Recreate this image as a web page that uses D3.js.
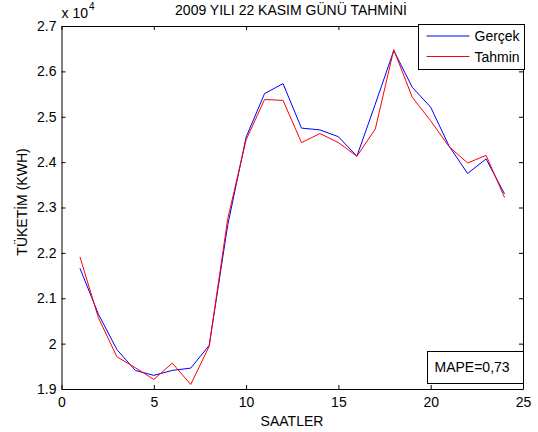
<!DOCTYPE html>
<html lang="tr">

<head>
  <meta charset="UTF-8">
  <title>2009 YILI 22 KASIM GÜNÜ TAHMİNİ</title>
  <script src="https://d3js.org/d3.v7.min.js"></script>
  <style>
    body {
      margin: 0;
      padding: 0;
      background: #ffffff;
      font-family: "Liberation Sans", Arial, sans-serif;
    }

    .axis text {
      font-size: 14px;
      fill: #000;
    }

    .axis path,
    .axis line {
      stroke: #000;
    }

    .label {
      font-size: 14px;
      fill: #000;
    }
  </style>
</head>

<body>
  <div id="chart"></div>
  <script>
    // saat (1-24)
    const hours = d3.range(1, 25);
    // x 10^4 KWH
    const gercek = [2.166, 2.065, 1.987, 1.941, 1.930, 1.941, 1.946, 1.996,
      2.260, 2.455, 2.551, 2.573, 2.475, 2.471, 2.456, 2.413,
      2.528, 2.646, 2.565, 2.521, 2.435, 2.375, 2.407, 2.330];
    const tahmin = [2.191, 2.057, 1.971, 1.947, 1.921, 1.957, 1.910, 1.994,
      2.274, 2.449, 2.538, 2.536, 2.443, 2.463, 2.443, 2.413,
      2.473, 2.648, 2.543, 2.491, 2.434, 2.398, 2.415, 2.322];
    const xTicks = [0, 5, 10, 15, 20, 25];
    const yTicks = [1.9, 2.0, 2.1, 2.2, 2.3, 2.4, 2.5, 2.6, 2.7];

    const W = 538, H = 432;
    const margin = { top: 26, right: 15, bottom: 43, left: 61.5 },
      width = W - margin.left - margin.right,
      height = H - margin.top - margin.bottom;

    const svg = d3.select("#chart")
      .append("svg")
      .attr("width", W)
      .attr("height", H);

    const g = svg.append("g")
      .attr("transform", `translate(${margin.left}, ${margin.top})`);

    const x = d3.scaleLinear().domain([0, 25]).range([0, width]);
    const y = d3.scaleLinear().domain([1.9, 2.7]).range([height, 0]);

    const fmt = d => d3.format("")(+d.toFixed(1));

    // axes, ticks inside like matlab
    g.append("g")
      .attr("class", "axis")
      .attr("transform", `translate(0, ${height})`)
      .call(d3.axisBottom(x).tickValues(xTicks).tickSizeInner(-4).tickSizeOuter(0).tickPadding(8));
    g.append("g")
      .attr("class", "axis")
      .call(d3.axisTop(x).tickValues(xTicks).tickSizeInner(-4).tickSizeOuter(0).tickFormat(""));
    g.append("g")
      .attr("class", "axis")
      .call(d3.axisLeft(y).tickValues(yTicks).tickSizeInner(-4).tickSizeOuter(0).tickPadding(5).tickFormat(fmt));
    g.append("g")
      .attr("class", "axis")
      .attr("transform", `translate(${width}, 0)`)
      .call(d3.axisRight(y).tickValues(yTicks).tickSizeInner(-4).tickSizeOuter(0).tickFormat(""));

    const line = d3.line()
      .x((d, i) => x(hours[i]))
      .y(d => y(d));

    g.append("path")
      .datum(gercek)
      .attr("fill", "none")
      .attr("stroke", "#0000ff")
      .attr("stroke-width", 1)
      .attr("d", line);

    g.append("path")
      .datum(tahmin)
      .attr("fill", "none")
      .attr("stroke", "#ff0000")
      .attr("stroke-width", 1)
      .attr("d", line);

    // title
    svg.append("text")
      .attr("class", "label")
      .attr("x", 291)
      .attr("y", 15)
      .attr("text-anchor", "middle")
      .text("2009 YILI 22 KASIM GÜNÜ TAHMİNİ");

    // x 10^4
    const ex = svg.append("text")
      .attr("class", "label")
      .attr("x", margin.left)
      .attr("y", 18);
    ex.append("tspan").text("x 10");
    ex.append("tspan").attr("dx", 1).attr("dy", -8).style("font-size", "10px").text("4");

    svg.append("text")
      .attr("class", "label")
      .attr("x", 292)
      .attr("y", 426)
      .attr("text-anchor", "middle")
      .text("SAATLER");

    svg.append("text")
      .attr("class", "label")
      .attr("transform", "translate(27, 202) rotate(-90)")
      .attr("text-anchor", "middle")
      .text("TÜKETİM (KWH)");

    // legend
    const lg = svg.append("g").attr("transform", "translate(418.5, 24.5)");
    lg.append("rect")
      .attr("width", 106)
      .attr("height", 45)
      .attr("fill", "#fff")
      .attr("stroke", "#000");
    [["Gerçek", "#0000ff"], ["Tahmin", "#ff0000"]].forEach((d, i) => {
      const yy = 11.5 + i * 20.5;
      lg.append("line")
        .attr("x1", 8).attr("x2", 51)
        .attr("y1", yy).attr("y2", yy)
        .attr("stroke", d[1]);
      lg.append("text")
        .attr("class", "label")
        .attr("x", 56)
        .attr("y", yy + 5)
        .text(d[0]);
    });

    // MAPE kutusu
    const mb = svg.append("g").attr("transform", "translate(427.5, 351.5)");
    mb.append("rect")
      .attr("width", 96)
      .attr("height", 32)
      .attr("fill", "#fff")
      .attr("stroke", "#000");
    mb.append("text")
      .attr("class", "label")
      .attr("x", 7)
      .attr("y", 20)
      .text("MAPE=0,73");
  </script>
</body>

</html>
